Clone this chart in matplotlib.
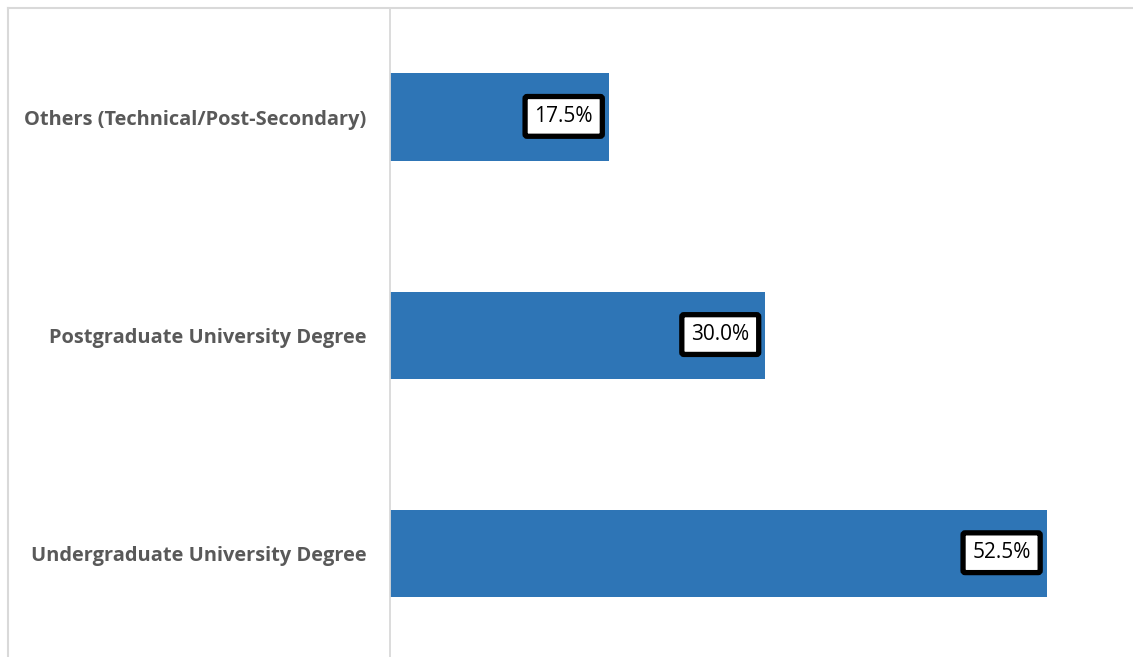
import matplotlib
matplotlib.use("Agg")
import matplotlib.pyplot as plt
from matplotlib.lines import Line2D

# education level shares (bottom -> top)
categories = ["Undergraduate University Degree",
              "Postgraduate University Degree",
              "Others (Technical/Post-Secondary)"]
shares = [52.5, 30.0, 17.5]

BAR = "#2E75B6"
GRID = "#D9D9D9"
LABEL = "#595959"

W, H, DPI = 1133, 657, 100
fig = plt.figure(figsize=(W / DPI, H / DPI), dpi=DPI)

# plot area: value axis starts at x=390px, category band spans the height
ax = fig.add_axes([390 / W, -5.5 / H, 1 - 390 / W, (662.5 - 8) / H])
y = range(len(categories))
ax.barh(y, shares, height=0.4, color=BAR, zorder=2)
ax.set_ylim(-0.5, len(categories) - 0.5)
ax.set_xlim(0, (W - 390) / 12.51)

for s in ["top", "right", "bottom"]:
    ax.spines[s].set_visible(False)
ax.spines["left"].set_color(GRID)
ax.spines["left"].set_linewidth(1.3)
ax.set_xticks([])
ax.set_yticks(list(y))
ax.set_yticklabels(categories, fontsize=14.4, fontweight="bold", color=LABEL,
                   family="Open Sans")
ax.tick_params(axis="y", length=0, pad=17)

for yi, v in zip(y, shares):
    ax.annotate(f"{v:.1f}%", xy=(v, yi), xytext=(-11.5, 0.5), textcoords="offset points",
                ha="right", va="center", fontsize=15, family="Open Sans", color="black",
                bbox=dict(boxstyle="round,pad=0.45,rounding_size=0.1", fc="white",
                          ec="black", lw=3.8),
                zorder=3)

# outer chart frame (top and left edges)
fig.add_artist(Line2D([8 / W, 8 / W], [0, 1 - 8 / H], transform=fig.transFigure,
                      color=GRID, lw=1.5))
fig.add_artist(Line2D([8 / W, 1], [1 - 8 / H, 1 - 8 / H], transform=fig.transFigure,
                      color=GRID, lw=1.5))

fig.savefig("out.png", dpi=DPI, facecolor="white")
